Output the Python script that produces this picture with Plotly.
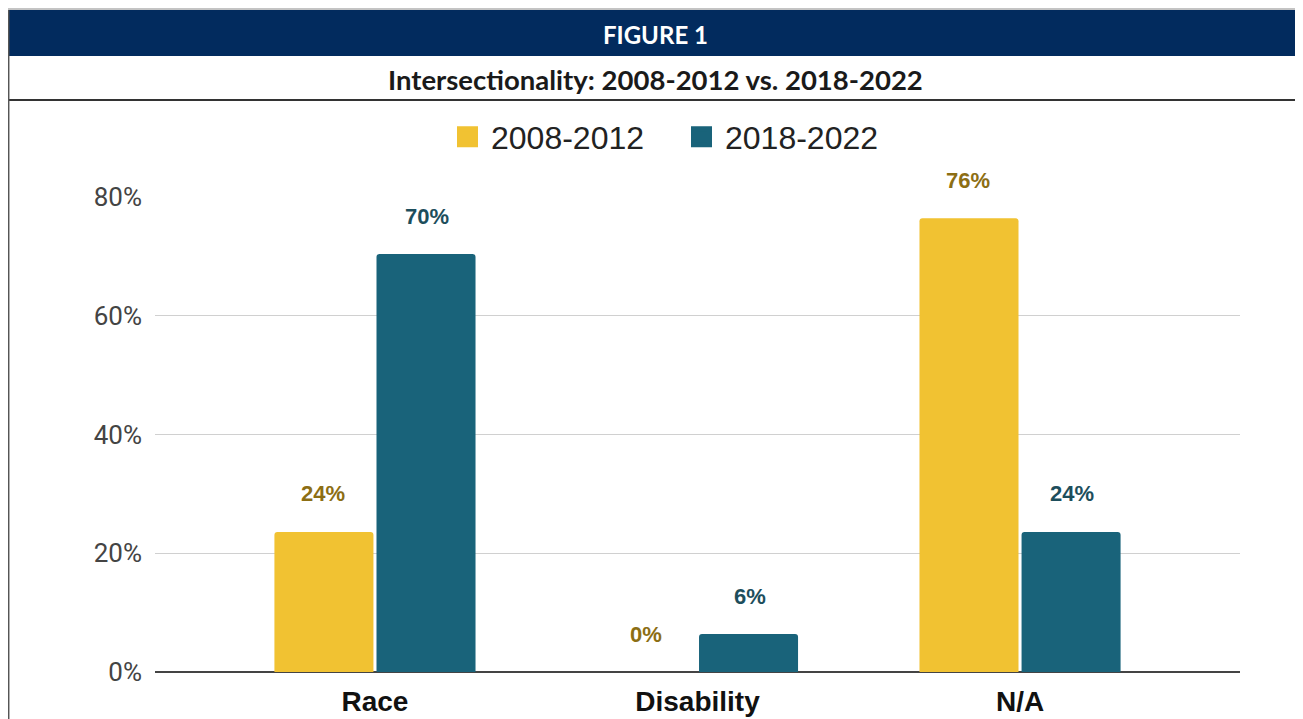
import plotly.graph_objects as go

categories = ["Race", "Disability", "N/A"]
series_names = ["2008-2012", "2018-2022"]
values_2008_2012 = [23.6, 0.0, 76.4]
values_2018_2022 = [70.4, 6.4, 23.6]
y_ticks = [0, 20, 40, 60, 80]
y_tick_labels = ["0%", "20%", "40%", "60%", "80%"]

bar_colors = ["#F1C232", "#19637A"]
label_colors = ["#8C6E14", "#1D4E5C"]

# page body has an 8px margin; work in reference-screen pixels and shift
OFF = 8
W, H = 1303 - OFF, 719 - OFF
L, R, T, B = 155 - OFF, 1240 - OFF, 197 - OFF, 672 - OFF


def px(x):
    return (x - OFF - L) / (R - L)


def py(y):
    return (B - (y - OFF)) / (B - T)


fig = go.Figure()
all_vals = [values_2008_2012, values_2018_2022]
for name, vals, col in zip(series_names, all_vals, bar_colors):
    fig.add_trace(go.Bar(
        x=categories, y=vals, name=name, showlegend=False,
        marker=dict(color=col, line=dict(width=0), cornerradius=3),
        hoverinfo="skip",
    ))
# legend entries (square swatches)
for name, col in zip(series_names, bar_colors):
    fig.add_trace(go.Scatter(
        x=[None], y=[None], mode="markers", name=name,
        marker=dict(symbol="square", size=16, color=col, line=dict(width=5, color=col)),
    ))

annotations = []
for i, (vals, lc) in enumerate(zip(all_vals, label_colors)):
    shift = -52 if i == 0 else 52
    for c, v in zip(categories, vals):
        annotations.append(dict(
            x=c, y=v, xref="x", yref="y", text=f"{v:.0f}%",
            showarrow=False, xshift=shift, yshift=38, yanchor="middle",
            font=dict(family="Liberation Sans, Arial", size=22, color=lc, weight="bold"),
        ))

annotations.append(dict(
    x=px((8 + 1303) / 2), y=py(34), xref="paper", yref="paper",
    text="FIGURE 1", showarrow=False, yanchor="middle", xanchor="center",
    font=dict(family="Lato, Arial", size=24, color="white", weight="bold"),
))
annotations.append(dict(
    x=px(655), y=py(80), xref="paper", yref="paper",
    text="Intersectionality: 2008-2012 vs. 2018-2022", showarrow=False,
    yanchor="middle", xanchor="center",
    font=dict(family="Lato, Arial", size=27.5, color="#1a1a1a", weight="bold"),
))

shapes = [
    dict(type="rect", xref="paper", yref="paper", x0=px(8), x1=px(1303), y0=py(56), y1=py(10),
         fillcolor="#022B5E", line=dict(width=0), layer="above"),
    dict(type="line", xref="paper", yref="paper", x0=px(8), x1=px(1303), y0=py(9), y1=py(9),
         line=dict(color="#888888", width=1)),
    dict(type="line", xref="paper", yref="paper", x0=px(8), x1=px(1303), y0=py(100), y1=py(100),
         line=dict(color="#333333", width=2)),
    dict(type="line", xref="paper", yref="paper", x0=px(8.7), x1=px(8.7), y0=py(10), y1=py(719),
         line=dict(color="#555555", width=1.5)),
    dict(type="line", xref="paper", yref="paper", x0=px(1301.5), x1=px(1301.5), y0=py(56), y1=py(719),
         line=dict(color="#999999", width=1.5)),
]

fig.update_layout(
    width=W, height=H,
    margin=dict(l=L, r=W - R, t=T, b=H - B, autoexpand=False),
    paper_bgcolor="white", plot_bgcolor="white",
    barmode="group", bargap=0.367, bargroupgap=0.03,
    showlegend=True,
    legend=dict(orientation="h", x=px(678), y=py(137), xanchor="center", yanchor="middle",
                font=dict(family="Liberation Sans, Arial", size=32, color="#222222"),
                itemwidth=37, entrywidth=182, traceorder="normal", bgcolor="rgba(0,0,0,0)"),
    annotations=annotations,
    shapes=shapes,
    xaxis=dict(type="category", range=[-0.682, 2.682], showgrid=False, showline=False,
               ticks="", ticklabelstandoff=10,
               tickfont=dict(family="Liberation Sans, Arial", size=28, color="#111111", weight="bold"),
               fixedrange=True),
    yaxis=dict(range=[0, 80], tickvals=y_ticks, ticktext=y_tick_labels,
               showgrid=True, gridcolor="#D0D0D0", gridwidth=1,
               zeroline=True, zerolinecolor="#444444", zerolinewidth=2,
               showline=False, ticks="", ticklabelstandoff=12,
               tickfont=dict(family="Roboto, Arial", size=26, color="#444444"),
               fixedrange=True),
)

fig.write_html("out.html")
